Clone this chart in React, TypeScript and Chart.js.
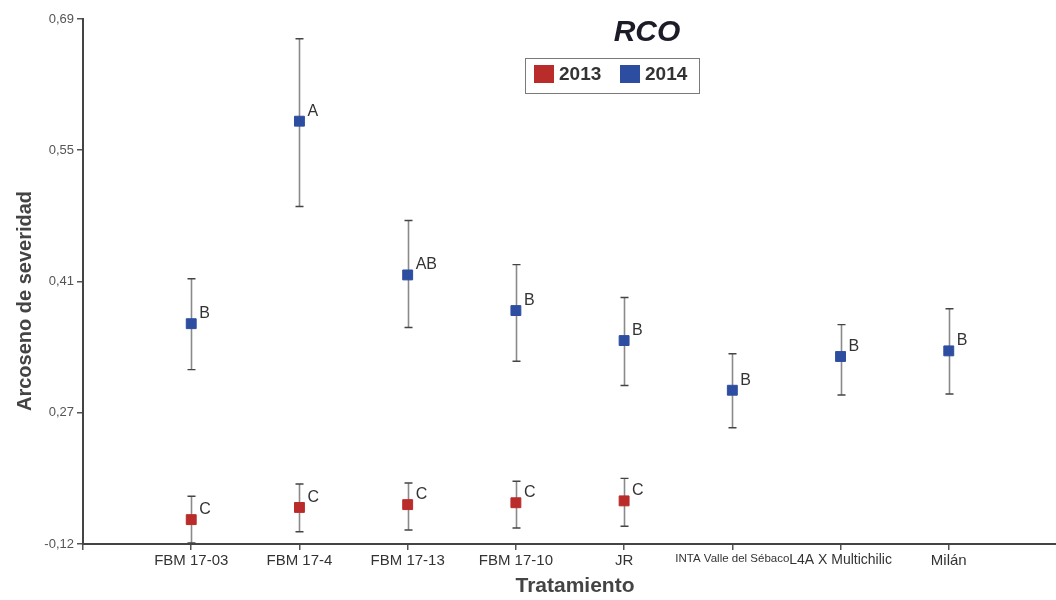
import React, { useEffect, useRef } from "react";
import { Chart, registerables } from "chart.js";

Chart.register(...registerables);

const categories = [
  "FBM 17-03",
  "FBM 17-4",
  "FBM 17-13",
  "FBM 17-10",
  "JR",
  "INTA Valle del Sébaco",
  "L4A X Multichilic",
  "Milán",
];

const yTickValues = [0.13, 0.27, 0.41, 0.55, 0.69];
const yTickLabels = ["-0,12", "0,27", "0,41", "0,55", "0,69"];

const mean2013 = [0.156, 0.169, 0.172, 0.174, 0.176, null, null, null];
const low2013 = [0.131, 0.143, 0.145, 0.147, 0.149, null, null, null];
const high2013 = [0.181, 0.194, 0.195, 0.197, 0.2, null, null, null];
const letters2013 = ["C", "C", "C", "C", "C", "", "", ""];

const mean2014 = [0.365, 0.581, 0.417, 0.379, 0.347, 0.294, 0.33, 0.336];
const low2014 = [0.316, 0.49, 0.361, 0.325, 0.299, 0.254, 0.289, 0.29];
const high2014 = [0.413, 0.669, 0.475, 0.428, 0.393, 0.333, 0.364, 0.381];
const letters2014 = ["B", "A", "AB", "B", "B", "B", "B", "B"];

const seriesNames = ["2013", "2014"];
const titleText = "RCO";
const yTitle = "Arcoseno de severidad";
const xTitle = "Tratamiento";

const RED = "#b92c29";
const BLUE = "#2d4ea0";
const FONT = "'Liberation Sans', Arial, sans-serif";

const xLabels = ["", ...categories, ""];
const pad = (arr: (number | null)[]) => [null, ...arr, null];

const errorSets = [
  { low: low2013, high: high2013, letters: letters2013 },
  { low: low2014, high: high2014, letters: letters2014 },
];

const errorBarPlugin = {
  id: "errorBars",
  beforeDatasetsDraw(chart: any) {
    const ctx = chart.ctx;
    const xs = chart.scales.x;
    const ys = chart.scales.y;
    ctx.save();
    errorSets.forEach((set) => {
      set.low.forEach((lo, i) => {
        const hi = set.high[i];
        if (lo == null || hi == null) return;
        const x = Math.round(xs.getPixelForValue(i + 1)) + 0.5;
        const yl = ys.getPixelForValue(lo);
        const yh = ys.getPixelForValue(hi);
        ctx.strokeStyle = "#8a8a8a";
        ctx.lineWidth = 1.6;
        ctx.beginPath();
        ctx.moveTo(x, yl);
        ctx.lineTo(x, yh);
        ctx.stroke();
        ctx.strokeStyle = "#444";
        ctx.lineWidth = 1.4;
        ctx.beginPath();
        ctx.moveTo(x - 4, yl);
        ctx.lineTo(x + 4, yl);
        ctx.moveTo(x - 4, yh);
        ctx.lineTo(x + 4, yh);
        ctx.stroke();
      });
    });
    ctx.restore();
  },
  afterDatasetsDraw(chart: any) {
    const ctx = chart.ctx;
    const xs = chart.scales.x;
    const ys = chart.scales.y;
    const means = [mean2013, mean2014];
    ctx.save();
    ctx.fillStyle = "#333";
    ctx.font = `16px ${FONT}`;
    ctx.textAlign = "left";
    ctx.textBaseline = "middle";
    errorSets.forEach((set, s) => {
      set.letters.forEach((letter, i) => {
        const v = means[s][i];
        if (!letter || v == null) return;
        const x = xs.getPixelForValue(i + 1);
        const y = ys.getPixelForValue(v);
        ctx.fillText(letter, x + 8, y - 10);
      });
    });
    ctx.restore();
  },
  afterDraw(chart: any) {
    const ctx = chart.ctx;
    ctx.save();
    ctx.fillStyle = "#1c1c28";
    ctx.font = `italic bold 30px ${FONT}`;
    ctx.textAlign = "center";
    ctx.textBaseline = "middle";
    ctx.fillText(titleText, 647, 33);
    ctx.strokeStyle = "#7a7a7a";
    ctx.lineWidth = 1;
    ctx.strokeRect(525.5, 58.5, 174, 35);
    const colors = [RED, BLUE];
    const xsq = [534, 620];
    ctx.font = `bold 19px ${FONT}`;
    ctx.textAlign = "left";
    seriesNames.forEach((name, k) => {
      ctx.fillStyle = colors[k];
      ctx.fillRect(xsq[k], 65, 20, 18);
      ctx.fillStyle = "#333";
      ctx.fillText(name, xsq[k] + 25, 75);
    });
    ctx.fillStyle = "#444";
    ctx.font = `bold 21px ${FONT}`;
    ctx.textAlign = "center";
    ctx.fillText(xTitle, 575, 586);
    ctx.translate(25, 301);
    ctx.rotate(-Math.PI / 2);
    ctx.font = `bold 20px ${FONT}`;
    ctx.fillText(yTitle, 0, 0);
    ctx.restore();
  },
};

export default function App() {
  const ref = useRef<HTMLCanvasElement | null>(null);
  useEffect(() => {
    if (!ref.current) return;
    const chart = new Chart(ref.current, {
      type: "line",
      data: {
        labels: xLabels,
        datasets: [
          {
            label: seriesNames[0],
            data: pad(mean2013),
            showLine: false,
            pointStyle: "rect",
            pointRadius: 7,
            pointBackgroundColor: RED,
            pointBorderColor: RED,
            pointBorderWidth: 1,
          },
          {
            label: seriesNames[1],
            data: pad(mean2014),
            showLine: false,
            pointStyle: "rect",
            pointRadius: 7,
            pointBackgroundColor: BLUE,
            pointBorderColor: BLUE,
            pointBorderWidth: 1,
          },
        ],
      },
      options: {
        animation: false,
        responsive: false,
        layout: { padding: { top: 19, right: 0, left: 0, bottom: 0 } },
        plugins: {
          legend: { display: false },
          title: { display: false },
          tooltip: { enabled: false },
        },
        scales: {
          x: {
            type: "category",
            offset: false,
            afterFit: (s: any) => {
              s.height = 56;
              s.paddingRight = 0;
              s.paddingLeft = 0;
            },
            grid: {
              drawOnChartArea: false,
              drawTicks: true,
              tickLength: 6,
              color: "#555",
              lineWidth: 1.5,
            },
            border: { display: true, color: "#444", width: 2 },
            ticks: {
              autoSkip: false,
              maxRotation: 0,
              minRotation: 0,
              padding: 2,
              color: "#333",
              font: (c: any) => {
                const lbl = xLabels[c.index] || "";
                if (lbl.startsWith("INTA")) return { family: FONT, size: 11.5 };
                if (lbl.startsWith("L4A")) return { family: FONT, size: 14 };
                return { family: FONT, size: 15 };
              },
            },
          },
          y: {
            type: "linear",
            min: 0.13,
            max: 0.69,
            afterFit: (s: any) => {
              s.width = 83;
            },
            afterBuildTicks: (s: any) => {
              s.ticks = yTickValues.map((v) => ({ value: v }));
            },
            grid: {
              drawOnChartArea: false,
              drawTicks: true,
              tickLength: 6,
              color: "#555",
              lineWidth: 1.5,
            },
            border: { display: true, color: "#444", width: 2 },
            ticks: {
              padding: 3,
              color: "#555",
              font: { family: FONT, size: 13 },
              callback: (_v: any, i: number) => yTickLabels[i],
            },
          },
        },
      },
      plugins: [errorBarPlugin],
    });
    return () => chart.destroy();
  }, []);
  return (
    <div style={{ position: "fixed", left: 0, top: 0, width: 1056, height: 600, overflow: "hidden", background: "#fff" }}>
      <canvas ref={ref} width={1065} height={600} style={{ display: "block" }} />
    </div>
  );
}
